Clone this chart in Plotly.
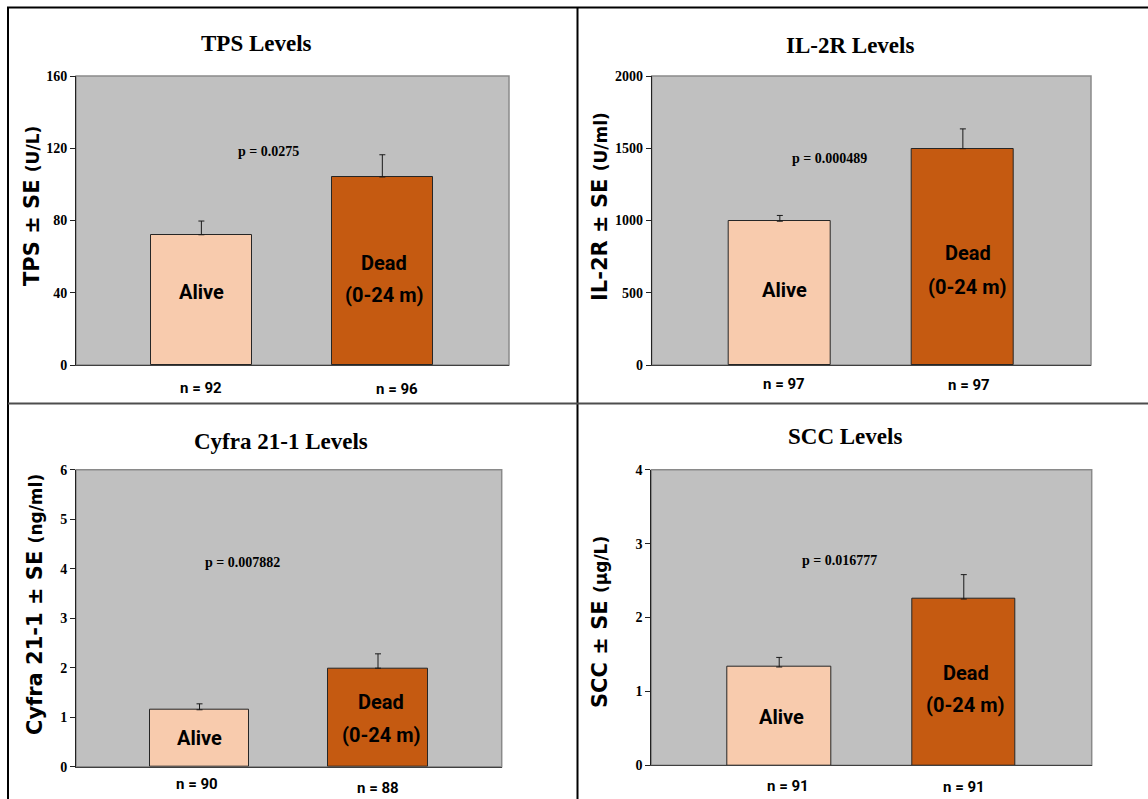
import plotly.graph_objects as go

# ---- data -------------------------------------------------------------
groups = ["Alive", "Dead"]
alive_text = "Alive"
dead_text = ["Dead", "(0-24 m)"]

titles = ["TPS Levels", "IL-2R Levels", "Cyfra 21-1 Levels", "SCC Levels"]
y_names = ["TPS ± SE", "IL-2R ± SE", "Cyfra 21-1 ± SE", "SCC ± SE"]
y_units = ["(U/L)", "(U/ml)", "(ng/ml)", "(µg/L)"]

tps_mean = [72.1, 104.1]
tps_se = [7.6, 12.3]
il2r_mean = [995, 1497]
il2r_se = [40, 137]
cyfra_mean = [1.15, 1.99]
cyfra_se = [0.12, 0.29]
scc_mean = [1.33, 2.25]
scc_se = [0.13, 0.33]

n_counts = [[92, 96], [97, 97], [90, 88], [91, 91]]
p_values = ["0.0275", "0.000489", "0.007882", "0.016777"]

y_max = [160, 2000, 6, 4]
y_step = [40, 500, 1, 1]

means = [tps_mean, il2r_mean, cyfra_mean, scc_mean]
ses = [tps_se, il2r_se, cyfra_se, scc_se]

# ---- layout geometry (pixels in a 1148 x 799 page) ----------------------
W, H = 1148, 799
bar_colors = ["#F8CBAD", "#C55A11"]
plot_bg = "#C0C0C0"

# plot area boxes: x0, x1, y_top, y_bottom
boxes = [(76, 509, 76, 365), (651.7, 1091, 76, 365),
         (76, 501.7, 469.7, 766.7), (651.3, 1091.7, 469.7, 765.3)]
title_pos = [(256, 43), (849.7, 45), (280.8, 441.7), (844.7, 436.7)]
ytitle_pos = [(32, 206), (600, 207), (35, 605), (600, 622)]
# p-value label position in data coords (x, y)
p_pos = [(0.373, 118), (0.274, 1426), (0.242, 4.12), (0.324, 2.77)]
# text inside bars (data coords)
alive_lab = [(0.0, 40.4), (0.028, 519), (0.0, 0.58), (0.011, 0.658)]
dead_x = [1.01, 1.027, 1.018, 1.011]
dead_y = [(56.5, 38.8), (775, 540), (1.313, 0.640), (1.253, 0.816)]
# sample size labels: (x data, y domain) for alive and dead
n_alive = [(0.0, -0.08), (0.023, -0.066), (-0.016, -0.058), (0.047, -0.07)]
n_dead = [(1.08, -0.083), (1.034, -0.069), (1.0, -0.071), (1.0, -0.072)]
x_range = [[-0.693, 1.70], [-0.70, 1.70], [-0.692, 1.693], [-0.693, 1.693]]


def px(x):
    return x / W


def py(y):
    return 1 - y / H


serif = "Liberation Serif, Times New Roman, serif"
narrow = "Roboto, Arial Narrow, sans-serif"
sans_bold = "DejaVu Sans, Verdana, sans-serif"

fig = go.Figure()
annotations = []
shapes = []

for i in range(4):
    sfx = "" if i == 0 else str(i + 1)
    xa, ya = "x" + sfx, "y" + sfx
    x0, x1, yt, yb = boxes[i]

    fig.add_trace(go.Bar(
        x=[0, 1], y=means[i], width=0.56,
        marker=dict(color=bar_colors, line=dict(color="#262626", width=1)),
        error_y=dict(type="data", array=ses[i], arrayminus=[0, 0],
                     symmetric=False, color="#1a1a1a", thickness=1, width=3),
        xaxis=xa, yaxis=ya, showlegend=False, hoverinfo="skip",
    ))

    fig.layout["xaxis" + sfx] = dict(
        domain=[px(x0), px(x1)], range=x_range[i], anchor=ya,
        showticklabels=False, ticks="", showgrid=False, zeroline=False,
        showline=True, linecolor="#404040", linewidth=1, fixedrange=True,
        automargin=False,
    )
    fig.layout["yaxis" + sfx] = dict(
        domain=[py(yb), py(yt)], range=[0, y_max[i]], anchor=xa,
        tickmode="linear", tick0=0, dtick=y_step[i],
        ticks="outside", ticklen=5, tickcolor="#222", tickwidth=1,
        showgrid=False, zeroline=False, showline=True,
        linecolor="#222", linewidth=1,
        tickfont=dict(family=serif, size=14, color="black", weight="bold"),
        fixedrange=True, automargin=False,
    )

    # plot area background with grey frame
    shapes.append(dict(type="rect", xref=xa + " domain", yref=ya + " domain",
                       x0=0, x1=1, y0=0, y1=1, fillcolor=plot_bg,
                       line=dict(color="#8a8a8a", width=1.5), layer="below"))

    # panel title
    annotations.append(dict(
        text=titles[i], xref="paper", yref="paper",
        x=px(title_pos[i][0]), y=py(title_pos[i][1]),
        showarrow=False, xanchor="center", yanchor="middle",
        font=dict(family=serif, size=23, color="black", weight="bold")))

    # rotated y-axis title with smaller units
    annotations.append(dict(
        text=f"{y_names[i]} <span style='font-size:17px'>{y_units[i]}</span>",
        xref="paper", yref="paper",
        x=px(ytitle_pos[i][0]), y=py(ytitle_pos[i][1]),
        textangle=-90, showarrow=False, xanchor="center", yanchor="middle",
        font=dict(family=sans_bold, size=21, color="black", weight="bold")))

    # p-value
    annotations.append(dict(
        text=f"p = {p_values[i]}", xref=xa, yref=ya,
        x=p_pos[i][0], y=p_pos[i][1], showarrow=False,
        font=dict(family=serif, size=14, color="black", weight="bold")))

    # labels inside bars
    bar_font = dict(family=narrow, size=20, color="black", weight="bold")
    annotations.append(dict(
        text=alive_text, xref=xa, yref=ya, x=alive_lab[i][0],
        y=alive_lab[i][1], showarrow=False, font=bar_font))
    for line, ly in zip(dead_text, dead_y[i]):
        annotations.append(dict(
            text=line, xref=xa, yref=ya, x=dead_x[i], y=ly,
            showarrow=False, font=bar_font))

    # sample sizes below the axis
    for (nx, ny), n in zip([n_alive[i], n_dead[i]], n_counts[i]):
        annotations.append(dict(
            text=f"n = {n}", xref=xa, yref=ya + " domain", x=nx, y=ny,
            showarrow=False, yanchor="middle",
            font=dict(family=narrow, size=15, color="black", weight="bold")))

# panel frame lines
frame = dict(color="black", width=2)
shapes += [
    dict(type="line", xref="paper", yref="paper", x0=px(7), x1=1,
         y0=py(7.5), y1=py(7.5), line=frame),
    dict(type="line", xref="paper", yref="paper", x0=px(8), x1=px(8),
         y0=py(7), y1=0, line=frame),
    dict(type="line", xref="paper", yref="paper", x0=px(577.5), x1=px(577.5),
         y0=py(7), y1=0, line=frame),
    dict(type="line", xref="paper", yref="paper", x0=px(8), x1=1,
         y0=py(403.5), y1=py(403.5), line=dict(color="#4d4d4d", width=2)),
]

fig.update_layout(
    width=W, height=H, autosize=False,
    margin=dict(l=0, r=0, t=0, b=0, autoexpand=False),
    paper_bgcolor="white", plot_bgcolor=plot_bg,
    annotations=annotations, shapes=shapes, bargap=0,
)

fig.write_html("out.html", config={"displayModeBar": False})
